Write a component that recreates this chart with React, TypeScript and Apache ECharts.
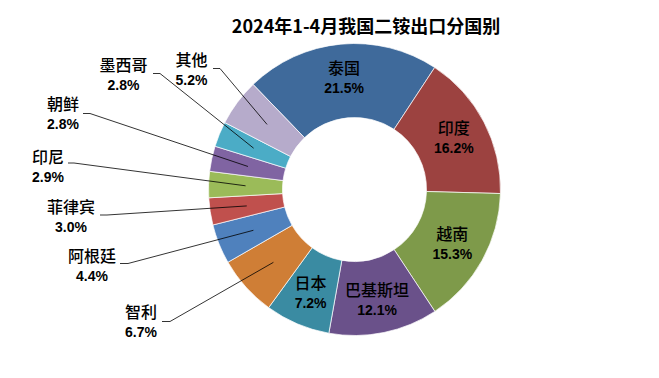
import React, { useEffect, useRef } from "react";
import * as echarts from "echarts";

const countries = ["泰国", "印度", "越南", "巴基斯坦", "日本", "智利", "阿根廷", "菲律宾", "印尼", "朝鲜", "墨西哥", "其他"];
const shares = [21.5, 16.2, 15.3, 12.1, 7.2, 6.7, 4.4, 3.0, 2.9, 2.8, 2.8, 5.2];
const sliceColors = ["#3F6A9B", "#9C4240", "#7E9A4A", "#6A518A", "#3A8BA2", "#CF7E36", "#4F81BD", "#C0504D", "#9BBB59", "#8064A2", "#4BACC6", "#B6ABCB"];
const titleText = "2024年1-4月我国二铵出口分国别";

// layout for labels placed outside the ring (block centre, leader stub start/end)
const outsideLayout: Record<string, { x: number; y: number; sx0: number; sx1: number; sy: number }> = {
  "智利": { x: 141, y: 321.5, sx0: 162, sx1: 170, sy: 321.5 },
  "阿根廷": { x: 92, y: 265, sx0: 120, sx1: 128, sy: 263.5 },
  "菲律宾": { x: 71, y: 216.5, sx0: 100, sx1: 107, sy: 215 },
  "印尼": { x: 48, y: 166.5, sx0: 68, sx1: 74, sy: 163 },
  "朝鲜": { x: 63, y: 113, sx0: 83, sx1: 90, sy: 113.5 },
  "墨西哥": { x: 123.5, y: 74.5, sx0: 153, sx1: 160, sy: 73.5 },
  "其他": { x: 191.5, y: 69.5, sx0: 213, sx1: 220, sy: 68.5 },
};

const CX = 354.5;
const CY = 189.5;
const R_IN = 72;
const R_OUT = 146;
const START_FROM_TOP = -44; // degrees clockwise from 12 o'clock

export default function App() {
  const ref = useRef<HTMLDivElement>(null);
  useEffect(() => {
    document.body.style.margin = "0";
    if (!ref.current) return;
    const chart = echarts.init(ref.current, undefined, { renderer: "svg" });
    const total = shares.reduce((a, b) => a + b, 0);
    let cum = 0;
    const lines: any[] = [];
    countries.forEach((name, i) => {
      const mid = cum + shares[i] / 2;
      cum += shares[i];
      const lay = outsideLayout[name];
      if (!lay) return;
      const theta = ((START_FROM_TOP + (mid / total) * 360) * Math.PI) / 180;
      const rm = (R_IN + R_OUT) / 2;
      const ax = CX + rm * Math.sin(theta);
      const ay = CY - rm * Math.cos(theta);
      lines.push({
        type: "polyline",
        silent: true,
        z: 10,
        shape: { points: [[lay.sx0, lay.sy], [lay.sx1, lay.sy], [ax, ay]] },
        style: { stroke: "#000", lineWidth: 0.8, fill: null },
      });
    });

    const data = countries.map((name, i) => ({
      name,
      value: shares[i],
      itemStyle: { color: sliceColors[i] },
    }));

    chart.setOption({
      animation: false,
      backgroundColor: "#fff",
      title: {
        text: titleText,
        left: 361,
        top: 9,
        textAlign: "center",
        textStyle: {
          fontSize: 18,
          fontWeight: "bold",
          color: "#000",
          fontFamily: "Noto Sans CJK SC",
          lineHeight: 22,
        },
      },
      graphic: lines,
      series: [
        {
          type: "pie",
          center: [CX, CY],
          radius: [R_IN, R_OUT],
          startAngle: 90 - START_FROM_TOP,
          clockwise: true,
          avoidLabelOverlap: false,
          itemStyle: { borderColor: "#fff", borderWidth: 0.7 },
          label: {
            show: true,
            position: "inside",
            formatter: (p: any) => `{n|${p.name}}\n{p|${Number(p.value).toFixed(1)}%}`,
            rich: {
              n: { fontSize: 16, fontWeight: 500, fontFamily: "Noto Sans CJK SC", color: "#000", lineHeight: 21, align: "center" },
              p: { fontSize: 14, fontWeight: "bold", fontFamily: "Liberation Sans", color: "#000", lineHeight: 21, align: "center" },
            },
          },
          labelLine: { show: false },
          labelLayout: (params: any) => {
            const name = countries[params.dataIndex];
            const lay = outsideLayout[name];
            if (!lay) return {};
            return { x: lay.x, y: lay.y, align: "center", verticalAlign: "middle" };
          },
          emphasis: { disabled: true },
          data,
        },
      ],
    });
    return () => chart.dispose();
  }, []);
  return <div ref={ref} style={{ width: 659, height: 378 }} />;
}
